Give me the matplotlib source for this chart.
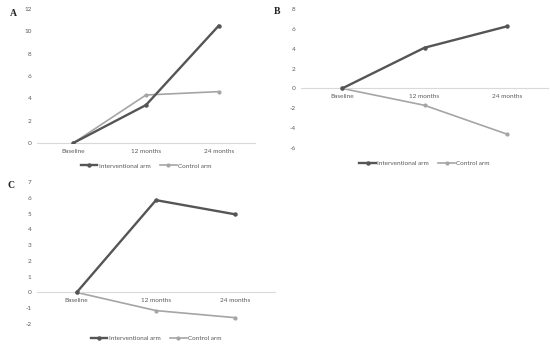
import matplotlib
matplotlib.use("Agg")
import matplotlib.pyplot as plt

categories = ["Baseline", "12 months", "24 months"]
series_names = ["Interventional arm", "Control arm"]

a_interv = [0, 3.4, 10.5]
a_control = [0, 4.3, 4.6]
b_interv = [0, 4.1, 6.25]
b_control = [0, -1.7, -4.6]
c_interv = [0, 5.85, 4.95]
c_control = [0, -1.15, -1.6]

dark = "#555555"
light = "#a5a5a5"
axis_grey = "#d9d9d9"
text_grey = "#595959"

plt.rcParams["font.family"] = ["Lato", "DejaVu Sans"]
plt.rcParams["axes.unicode_minus"] = False

W, H = 550, 348
fig = plt.figure(figsize=(W / 100, H / 100), dpi=100)


def px_axes(x0, x1, ytop, ybot):
    return fig.add_axes([x0 / W, 1 - ybot / H, (x1 - x0) / W, (ybot - ytop) / H])


def panel(ax, interv, control, ylim, yticks, leg_y):
    x = range(len(categories))
    ax.plot(x, interv, color=dark, lw=1.7, marker="o", ms=2.2, label=series_names[0], zorder=3)
    ax.plot(x, control, color=light, lw=1.2, marker="o", ms=2.0, label=series_names[1], zorder=2)
    ax.set_xlim(-0.5, 2.5)
    ax.set_ylim(*ylim)
    ax.set_yticks(yticks)
    ax.set_xticks(list(x))
    ax.set_xticklabels(categories)
    for s in ["top", "right", "left"]:
        ax.spines[s].set_visible(False)
    ax.spines["bottom"].set_position(("data", 0))
    ax.spines["bottom"].set_color(axis_grey)
    ax.spines["bottom"].set_linewidth(0.8)
    ax.tick_params(length=0, labelsize=4.6, colors=text_grey, pad=4)
    ax.patch.set_alpha(0)
    ax.legend(loc="center", bbox_to_anchor=(0.5, leg_y), ncol=2, frameon=False,
              fontsize=4.6, labelcolor=text_grey, handlelength=2.6, handletextpad=0.2,
              columnspacing=1.5, borderpad=0)


ax_a = px_axes(37, 255, 9, 143)
panel(ax_a, a_interv, a_control, (0, 12), range(0, 13, 2), -0.17)

ax_b = px_axes(301, 548, 9, 148)
panel(ax_b, b_interv, b_control, (-6, 8), range(-6, 9, 2), -0.11)

ax_c = px_axes(37, 275, 182, 324)
panel(ax_c, c_interv, c_control, (-2, 7), range(-2, 8), -0.10)

for label, (px, py) in {"A": (10, 14), "B": (274, 12), "C": (8, 186)}.items():
    fig.text(px / W, 1 - py / H, label, fontsize=7, fontweight="bold",
             family="Liberation Serif", color="#222222", va="center")

fig.savefig("out.png", dpi=100)
